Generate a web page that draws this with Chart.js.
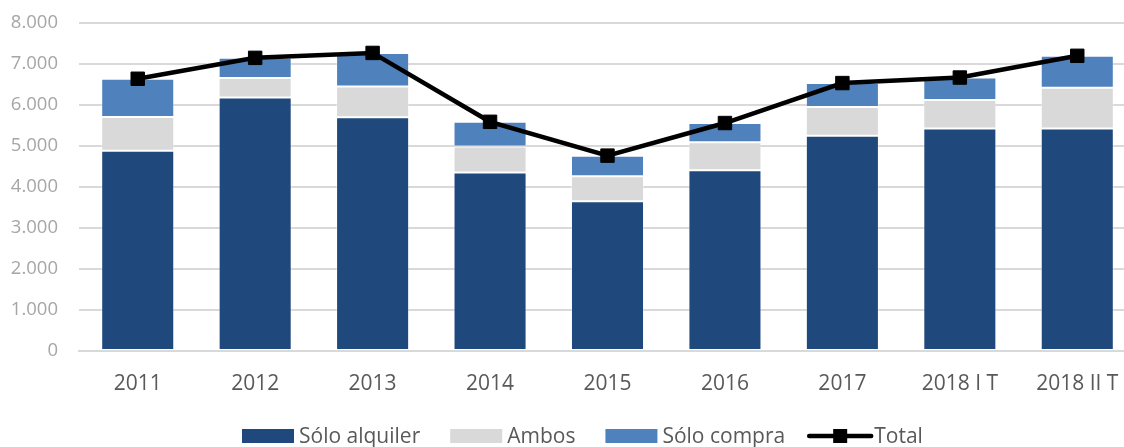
<!DOCTYPE html>
<html>
<head>
<meta charset="utf-8">
<script src="https://cdn.jsdelivr.net/npm/chart.js@4"></script>
<style>
  html, body { margin: 0; padding: 0; background: #ffffff; overflow: hidden; }
  #wrap { position: relative; width: 1137px; height: 447px; }
</style>
</head>
<body>
<div id="wrap"><canvas id="c"></canvas></div>
<script>
const categories = ["2011", "2012", "2013", "2014", "2015", "2016", "2017", "2018 I T", "2018 II T"];
const soloAlquiler = [4885, 6180, 5700, 4355, 3650, 4410, 5250, 5425, 5425];
const ambos        = [ 820,  480,  750,  635,  610,  680,  700,  700,  995];
const soloCompra   = [ 935,  490,  820,  600,  505,  470,  585,  545,  780];
const total        = [6640, 7150, 7270, 5590, 4765, 5560, 6535, 6670, 7200];
const yTickLabels  = ["0", "1.000", "2.000", "3.000", "4.000", "5.000", "6.000", "7.000", "8.000"];

const FONT = "'Open Sans', 'Liberation Sans', sans-serif";

const customLegend = {
  id: 'customLegend',
  afterDraw(chart) {
    const ctx = chart.ctx;
    const y = 436;
    ctx.save();
    ctx.font = "21px " + FONT;
    ctx.textBaseline = 'middle';
    ctx.textAlign = 'left';
    let x = 242;
    chart.data.datasets.forEach((ds, i) => {
      if (ds.type === 'line') {
        x -= 8;
        ctx.strokeStyle = '#000000';
        ctx.lineWidth = 4.5;
        ctx.lineCap = 'round';
        ctx.beginPath();
        ctx.moveTo(x + 2, y);
        ctx.lineTo(x + 64, y);
        ctx.stroke();
        ctx.fillStyle = '#000000';
        ctx.fillRect(x + 26, y - 7, 14, 14);
        x += 67;
      } else {
        ctx.fillStyle = ds.backgroundColor;
        ctx.fillRect(x, y - 7, 52, 14);
        x += 57;
      }
      ctx.fillStyle = '#595959';
      ctx.fillText(ds.label, x, y + 1);
      x += ctx.measureText(ds.label).width + 30;
    });
    ctx.restore();
  }
};

const barBorder = 'rgba(255,255,255,0.35)';

new Chart(document.getElementById('c'), {
  data: {
    labels: categories,
    datasets: [
      { type: 'bar', label: 'Sólo alquiler', data: soloAlquiler, backgroundColor: '#1f497d', stack: 'bars', order: 1,
        borderColor: barBorder, borderWidth: 1, borderSkipped: false },
      { type: 'bar', label: 'Ambos', data: ambos, backgroundColor: '#d9d9d9', stack: 'bars', order: 1,
        borderColor: barBorder, borderWidth: 1, borderSkipped: false },
      { type: 'bar', label: 'Sólo compra', data: soloCompra, backgroundColor: '#4f81bd', stack: 'bars', order: 1,
        borderColor: barBorder, borderWidth: 1, borderSkipped: false },
      { type: 'line', label: 'Total', data: total, stack: 'total', order: 0,
        borderColor: '#000000', backgroundColor: '#000000', borderWidth: 4.5, tension: 0,
        pointStyle: 'rect', pointRadius: 9.5, pointHoverRadius: 9.5, pointBorderWidth: 1,
        pointBackgroundColor: '#000000', pointBorderColor: '#000000', clip: false }
    ]
  },
  options: {
    responsive: true,
    maintainAspectRatio: false,
    animation: false,
    layout: { autoPadding: false, padding: { top: 23, right: 1, bottom: 0, left: 0 } },
    datasets: { bar: { barPercentage: 0.622, categoryPercentage: 1.0 } },
    plugins: { legend: { display: false }, tooltip: { enabled: false } },
    scales: {
      x: {
        stacked: true,
        offset: true,
        grid: { display: false, drawTicks: false },
        border: { display: true, color: '#d9d9d9', width: 2 },
        ticks: { color: '#595959', font: { family: FONT, size: 21 }, padding: 20, maxRotation: 0, autoSkip: false },
        afterFit(scale) { scale.height = 96; scale.paddingLeft = 0; scale.paddingRight = 0; }
      },
      y: {
        stacked: true,
        min: 0, max: 8000,
        grid: { color: '#d9d9d9', lineWidth: 2, drawTicks: false },
        border: { display: false },
        ticks: {
          stepSize: 1000,
          color: '#a6a6a6',
          font: { family: FONT, size: 18.5 },
          padding: 21,
          callback: (v) => yTickLabels[Math.round(v / 1000)]
        },
        afterFit(scale) { scale.width = 79; scale.paddingTop = 0; scale.paddingBottom = 0; }
      }
    }
  },
  plugins: [customLegend]
});
</script>
</body>
</html>
